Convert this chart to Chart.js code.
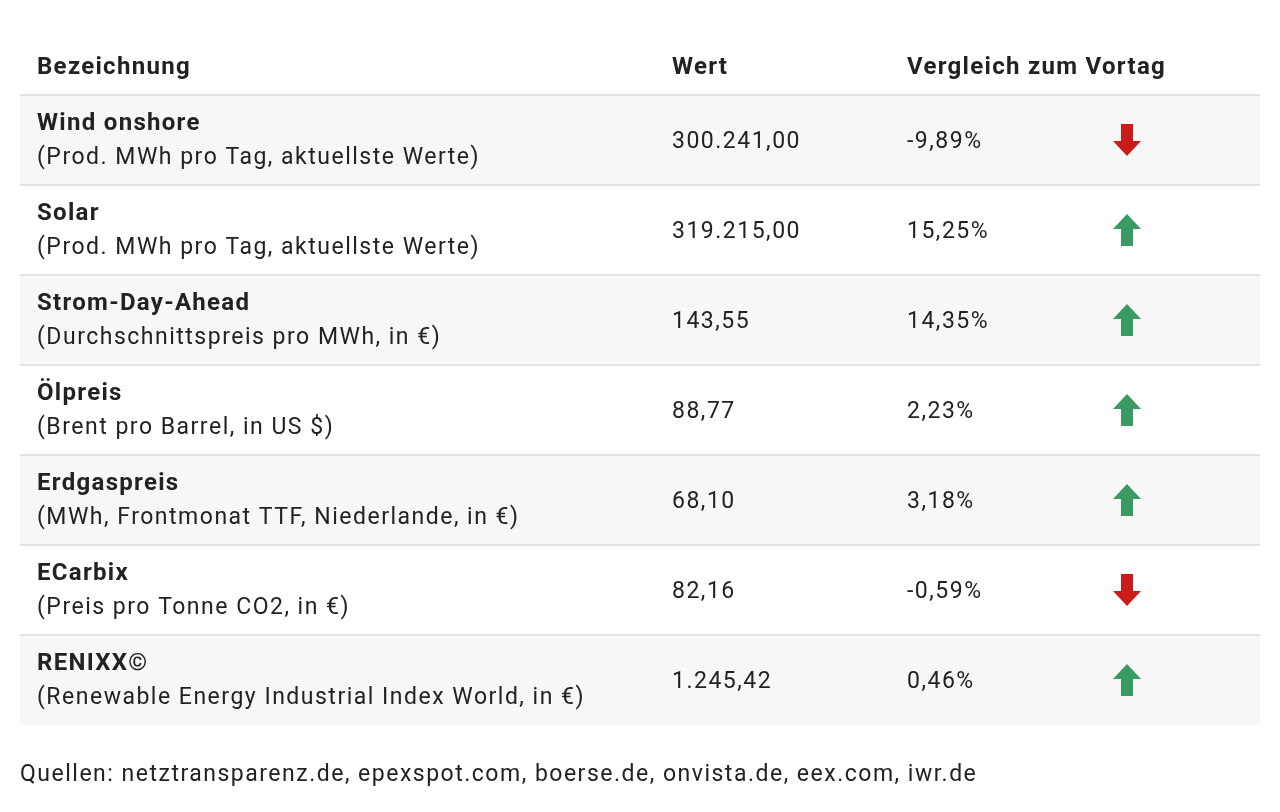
<!DOCTYPE html>
<html>
<head>
<meta charset="utf-8">
<script src="https://cdn.jsdelivr.net/npm/chart.js@4"></script>
<style>
  body { margin: 0; background: #fff; }
  canvas { display: block; }
</style>
</head>
<body>
<canvas id="table" width="1280" height="812"></canvas>
<script>
const headers = ['Bezeichnung', 'Wert', 'Vergleich zum Vortag'];
const names = ['Wind onshore', 'Solar', 'Strom-Day-Ahead', 'Ölpreis', 'Erdgaspreis', 'ECarbix', 'RENIXX©'];
const subtitles = [
  '(Prod. MWh pro Tag, aktuellste Werte)',
  '(Prod. MWh pro Tag, aktuellste Werte)',
  '(Durchschnittspreis pro MWh, in €)',
  '(Brent pro Barrel, in US $)',
  '(MWh, Frontmonat TTF, Niederlande, in €)',
  '(Preis pro Tonne CO2, in €)',
  '(Renewable Energy Industrial Index World, in €)'
];
const values = ['300.241,00', '319.215,00', '143,55', '88,77', '68,10', '82,16', '1.245,42'];
const changes = [-9.89, 15.25, 14.35, 2.23, 3.18, -0.59, 0.46];
const source = 'Quellen: netztransparenz.de, epexspot.com, boerse.de, onvista.de, eex.com, iwr.de';

const FONT = 'Roboto, "Liberation Sans", sans-serif';
const UP = '#3a9a63', DOWN = '#cc1b1b';

function arrowIcon(up) {
  const c = document.createElement('canvas');
  c.width = 30; c.height = 34;
  const g = c.getContext('2d');
  g.fillStyle = up ? UP : DOWN;
  g.beginPath();
  if (up) {
    g.moveTo(15, 1); g.lineTo(29, 16); g.lineTo(21, 16); g.lineTo(21, 33);
    g.lineTo(9, 33); g.lineTo(9, 16); g.lineTo(1, 16);
  } else {
    g.moveTo(15, 33); g.lineTo(29, 18); g.lineTo(21, 18); g.lineTo(21, 1);
    g.lineTo(9, 1); g.lineTo(9, 18); g.lineTo(1, 18);
  }
  g.closePath(); g.fill();
  return c;
}
const upIcon = arrowIcon(true), downIcon = arrowIcon(false);

function fmtPct(v) {
  return v.toFixed(2).replace('.', ',') + '%';
}

const tablePlugin = {
  id: 'tablePlugin',
  beforeDatasetsDraw(chart) {
    const ctx = chart.ctx;
    const area = chart.chartArea;
    const y = chart.scales.y;
    const band = (area.bottom - area.top) / names.length;
    const colName = area.left + 17, colVal = 672, colChg = 907;
    const bold = () => { ctx.font = 'bold 24px ' + FONT; ctx.letterSpacing = '1.3px'; };
    const regular = () => { ctx.font = '23px ' + FONT; ctx.letterSpacing = '1.5px'; };
    ctx.save();
    // header
    ctx.fillStyle = '#222';
    ctx.textBaseline = 'middle';
    bold();
    const hy = area.top - 27;
    ctx.fillText(headers[0], colName, hy);
    ctx.fillText(headers[1], colVal, hy);
    ctx.fillText(headers[2], colChg, hy);
    names.forEach((n, i) => {
      const cy = y.getPixelForValue(i);
      const top = cy - band / 2;
      ctx.fillStyle = i % 2 === 0 ? '#f7f7f7' : '#ffffff';
      ctx.fillRect(area.left, top, area.right - area.left, band);
      ctx.strokeStyle = '#e3e3e3';
      ctx.lineWidth = 2;
      ctx.beginPath();
      ctx.moveTo(area.left, top); ctx.lineTo(area.right, top);
      ctx.stroke();
      ctx.fillStyle = '#222';
      bold();
      ctx.fillText(n, colName, cy - 16);
      regular();
      ctx.fillText(subtitles[i], colName, cy + 18);
      ctx.fillText(values[i], colVal, cy + 2);
      ctx.fillText(fmtPct(changes[i]), colChg, cy + 2);
    });
    regular();
    ctx.fillStyle = '#222';
    ctx.fillText(source, 20, area.bottom + 50);
    ctx.restore();
  }
};

new Chart(document.getElementById('table'), {
  type: 'scatter',
  data: {
    datasets: [{
      data: changes.map((c, i) => ({ x: 0.8927, y: i })),
      pointStyle: changes.map(c => c < 0 ? downIcon : upIcon),
      pointRadius: 15
    }]
  },
  options: {
    responsive: false,
    animation: false,
    devicePixelRatio: 1,
    layout: { padding: { top: 95, bottom: 87, left: 20, right: 20 } },
    scales: {
      x: { type: 'linear', min: 0, max: 1, display: false },
      y: { type: 'linear', min: -0.5, max: names.length - 0.5, reverse: true, display: false }
    },
    plugins: { legend: { display: false }, tooltip: { enabled: false } }
  },
  plugins: [tablePlugin]
});
</script>
</body>
</html>
